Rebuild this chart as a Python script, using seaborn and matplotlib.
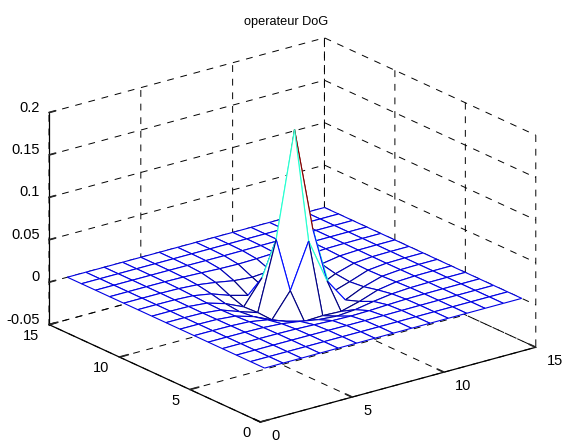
import numpy as np
import matplotlib
matplotlib.use('Agg')
import matplotlib.pyplot as plt
import seaborn as sns
from mpl_toolkits.mplot3d import proj3d
from mpl_toolkits.mplot3d.art3d import Poly3DCollection, Line3DCollection

sns.set_theme(style='white')
plt.rcParams['font.family'] = ['Liberation Sans', 'DejaVu Sans']

# mesh values
x_vals = [1, 2, 3, 4, 5, 6, 7, 8, 9, 10, 11, 12, 13, 14, 15]
y_vals = [1, 2, 3, 4, 5, 6, 7, 8, 9, 10, 11, 12, 13, 14, 15]
row_a = [0, 0, 0, 0, 0, 0, 0, 0, 0, 0, 0, 0, 0, 0, 0]
row_b = [0, 0, 0, 0, -0.00001, -0.00002, -0.00005, -0.00005, -0.00005, -0.00002, -0.00001, 0, 0, 0, 0]
row_c = [0, 0, 0, -0.00002, -0.00008, -0.00022, -0.00039, -0.00047, -0.00039, -0.00022, -0.00008, -0.00002, 0, 0, 0]
row_d = [0, 0, -0.00002, -0.00012, -0.00047, -0.00125, -0.00225, -0.00273, -0.00225, -0.00125, -0.00047, -0.00012, -0.00002, 0, 0]
row_e = [0, -0.00001, -0.00008, -0.00047, -0.00185, -0.0049, -0.00872, -0.0105, -0.00872, -0.0049, -0.00185, -0.00047, -0.00008, -0.00001, 0]
row_f = [0, -0.00002, -0.00022, -0.00125, -0.0049, -0.01255, -0.01841, -0.01753, -0.01841, -0.01255, -0.0049, -0.00125, -0.00022, -0.00002, 0]
row_g = [0, -0.00005, -0.00039, -0.00225, -0.00872, -0.01841, 0.01006, 0.06271, 0.01006, -0.01841, -0.00872, -0.00225, -0.00039, -0.00005, 0]
row_h = [0, -0.00005, -0.00047, -0.00273, -0.0105, -0.01753, 0.06271, 0.18651, 0.06271, -0.01753, -0.0105, -0.00273, -0.00047, -0.00005, 0]

x_ticks = [0, 5, 10, 15]
y_ticks = [0, 5, 10, 15]
z_ticks = [-0.05, 0, 0.05, 0.1, 0.15, 0.2]
xy_labels = ['0', '5', '10', '15']
z_labels = ['-0.05', '0', '0.05', '0.1', '0.15', '0.2']

Z = np.array([row_a, row_b, row_c, row_d, row_e, row_f, row_g, row_h,
              row_g, row_f, row_e, row_d, row_c, row_b, row_a])
X, Y = np.meshgrid(x_vals, y_vals)

fig = plt.figure(figsize=(5.63, 4.4), dpi=100, facecolor='white')
ax = fig.add_axes([22.8 / 563, -59.5 / 440, 525 / 563, 525 / 440],
                  projection='3d', proj_type='ortho', computed_zorder=False)
ax.view_init(elev=20.7, azim=-127.5)
ax.set_box_aspect((1, 1, 0.653))
ax.set_xlim(0, 15, view_margin=0)
ax.set_ylim(0, 15, view_margin=0)
ax.set_zlim(-0.05, 0.2, view_margin=0)

# colours by height, each edge takes the colour of its lower corner
jet = plt.get_cmap('jet')
C = jet((Z - Z.min()) / (Z.max() - Z.min()))

# far cells first so the near ones hide them
n = 0
for j in range(Z.shape[0] - 2, -1, -1):
    for i in range(Z.shape[1] - 2, -1, -1):
        p00 = (X[j, i], Y[j, i], Z[j, i])
        p10 = (X[j, i + 1], Y[j, i + 1], Z[j, i + 1])
        p11 = (X[j + 1, i + 1], Y[j + 1, i + 1], Z[j + 1, i + 1])
        p01 = (X[j + 1, i], Y[j + 1, i], Z[j + 1, i])
        face = Poly3DCollection([[p00, p10, p11, p01]], facecolors='white', edgecolors='none', zorder=n + 1)
        ax.add_collection3d(face, autolim=False)
        edges = Line3DCollection([[p00, p10], [p00, p01], [p10, p11], [p01, p11]],
                                 colors=[C[j, i], C[j, i], C[j, i + 1], C[j + 1, i]],
                                 linewidths=0.8, zorder=n + 2)
        ax.add_collection3d(edges, autolim=False)
        n += 2

ax.set_xticks(x_ticks)
ax.set_yticks(y_ticks)
ax.set_zticks(z_ticks)


# matlab style labels, mplot3d tick labels can't be aligned like this
def tick_text(x, y, z, s, ha):
    px, py, _ = proj3d.proj_transform(x, y, z, ax.get_proj())
    ax.text2D(px, py, s, transform=ax.transData, ha=ha, va='center', fontsize=10.5, color='black')


for t, s in zip(x_ticks, xy_labels):
    tick_text(t, -0.78, -0.06, s, 'left')
for t, s in zip(y_ticks, xy_labels):
    tick_text(-0.546, t, -0.06, s, 'right')
for t, s in zip(z_ticks, z_labels):
    tick_text(-0.49, 15, t + 0.0088, s, 'right')

for axis in [ax.xaxis, ax.yaxis, ax.zaxis]:
    axis.set_pane_color((1, 1, 1, 0))
    axis.pane.set_edgecolor('none')
    axis.line.set_color('black')
    axis.line.set_linewidth(0.9)
    axis._axinfo['grid'].update(color='black', linewidth=0.7, linestyle=(0, (7, 7)))
    axis._axinfo['tick'].update(inward_factor=0.0, outward_factor=0.4)
    axis.set_tick_params(labelbottom=False, labeltop=False, labelleft=False, labelright=False)
    axis.label.set_visible(False)
    axis.offsetText.set_visible(False)
ax.zaxis._axinfo['tick'].update(outward_factor=0.3)

# unused empty texts of the axes
for empty in [ax.title, ax._left_title, ax._right_title]:
    empty.set_visible(False)

fig.text(286.5 / 563, 1 - 22 / 440, 'operateur DoG', ha='center', va='center', fontsize=9.2, color='black')

fig.savefig('out.png', dpi=100)
